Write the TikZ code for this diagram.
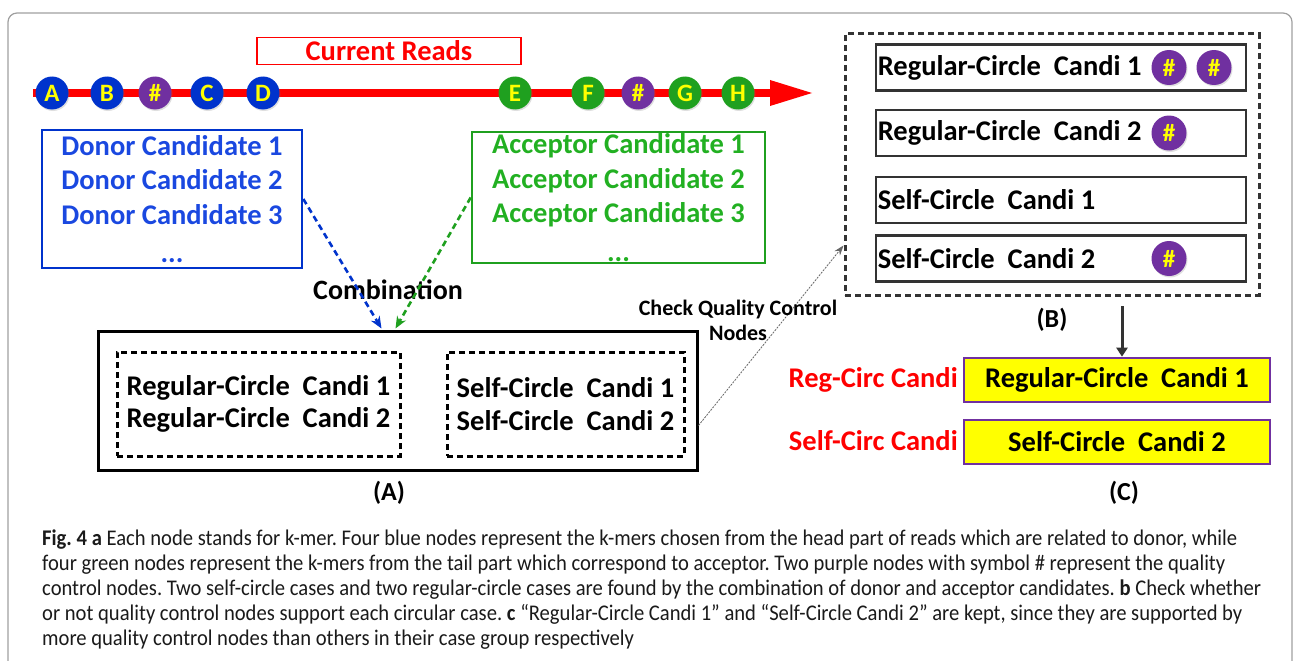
\documentclass[tikz,border=0pt]{standalone}
\usepackage{fontspec}
\setmainfont{Carlito}
\newfontfamily\capfont[FakeStretch=0.92]{Carlito}
\usetikzlibrary{arrows.meta,calc,shadows}
\definecolor{kred}{HTML}{FF0000}
\definecolor{kblue}{HTML}{0033CC}
\definecolor{tblue}{HTML}{1A48E0}
\definecolor{kgreen}{HTML}{1FA01F}
\definecolor{tgreen}{HTML}{22B022}
\definecolor{kpurple}{HTML}{7030A0}
\definecolor{kyellow}{HTML}{FFFF00}
\definecolor{dgray}{HTML}{333333}
\definecolor{capgray}{HTML}{1A1A1A}
\newcommand{\fs}[1]{\fontsize{#1}{#1}\selectfont}
\frenchspacing
\tikzset{
  kmer/.style={circle, minimum size=33pt, inner sep=0pt, font=\fs{25}\bfseries, text=kyellow,
    drop shadow={opacity=0.25, shadow xshift=1pt, shadow yshift=-1.5pt}},
  bluek/.style={kmer, fill=kblue},
  greenk/.style={kmer, fill=kgreen},
  qcn/.style={kmer, fill=kpurple, minimum size=35pt},
  dashbox/.style={draw, line width=3pt, dash pattern=on 6pt off 4pt},
  rowbox/.style={draw=dgray, line width=2.8pt, minimum height=46pt, minimum width=370pt, inner sep=0pt},
  rowtext/.style={anchor=west, inner sep=0pt, font=\fs{28.5}\bfseries},
  ybox/.style={draw=kpurple, fill=kyellow, line width=2.6pt, minimum width=306pt, minimum height=44pt, font=\fs{28.5}\bfseries},
  biglabel/.style={font=\fs{26}\bfseries},
  capline/.style={anchor=base west, inner sep=0pt, font=\capfont\fs{22.4}, text=capgray},
}
\begin{document}
\begin{tikzpicture}[x=1pt,y=-1pt]
\useasboundingbox (0,0) rectangle (1293,661);
% outer frame
\draw[gray!75, line width=1.2pt, rounded corners=9pt] (8,700) -- (8,13) -- (1292,13) -- (1292,700);

% current reads
\node[draw=kred, line width=1.2pt, minimum width=264pt, minimum height=27pt, inner sep=0pt,
  text=kred, font=\fs{28.5}\bfseries] (cur) at (389,51) {Current Reads};
\coordinate (rs) at (33,93);
\coordinate (re) at (776,93);
\coordinate (rt) at (812,93);
\draw[kred, line width=8pt] (rs) -- (re);
\fill[kred] (770,80) -- (rt) -- (770,106) -- cycle;

% k-mer nodes
\node[bluek] (nA) at (52,93) {A};
\node[bluek] (nB) at (107,93) {B};
\node[qcn, minimum size=33pt] (q1) at (155,93) {\#};
\node[bluek] (nC) at (207,93) {C};
\node[bluek] (nD) at (263,93) {D};
\node[greenk] (nE) at (515,93) {E};
\node[greenk] (nF) at (588,93) {F};
\node[qcn, minimum size=33pt] (q2) at (638,93) {\#};
\node[greenk] (nG) at (685,93) {G};
\node[greenk] (nH) at (738,93) {H};

% donor / acceptor
\node[draw=kblue, line width=2.6pt, minimum width=260pt, minimum height=138pt, text=tblue,
  font=\fs{28.5}\bfseries, align=center, inner sep=0pt] (donor) at (172,199)
  {Donor Candidate 1\\[6pt]Donor Candidate 2\\[6pt]Donor Candidate 3\\[10pt]...};
\node[draw=kgreen, line width=2.6pt, minimum width=293pt, minimum height=131pt, text=tgreen,
  font=\fs{28.5}\bfseries, align=center, inner sep=0pt] (acc) at (618.5,197.5)
  {Acceptor Candidate 1\\[6pt]Acceptor Candidate 2\\[6pt]Acceptor Candidate 3\\[10pt]...};

\node[font=\fs{28}\bfseries] (comb) at (388,290) {Combination};

% box A
\node[draw, line width=3pt, minimum width=599pt, minimum height=139pt, inner sep=0pt] (boxA) at (397.5,400.5) {};
\node[dashbox, minimum width=283pt, minimum height=104pt, align=left, font=\fs{28.5}\bfseries, inner sep=0pt] (regA) at (258.5,404)
  {Regular-Circle~ Candi 1\\[4pt]Regular-Circle~ Candi 2};
\node[dashbox, minimum width=237pt, minimum height=104pt, align=left, font=\fs{28.5}\bfseries, inner sep=0pt] (selfA) at (565.5,404)
  {Self-Circle~ Candi 1\\[4pt]Self-Circle~ Candi 2};
\node[biglabel] (labA) at (389,493) {(A)};

\draw[kblue, line width=2.6pt, dash pattern=on 6pt off 4pt, -{Stealth[length=12pt,width=10pt]}]
  (donor.east) -- ($(boxA.north)+(-16,-1)$);
\draw[kgreen, line width=2.6pt, dash pattern=on 6pt off 4pt, -{Stealth[length=12pt,width=10pt]}]
  (acc.west) -- ($(boxA.north)+(-2,-1)$);

% box B
\node[dashbox, draw=dgray, minimum width=414pt, minimum height=261pt, inner sep=0pt] (boxB) at (1052,164.5) {};
\node[rowbox] (r1) at (1061,67.5) {};
\node[rowbox] (r2) at (1061,133) {};
\node[rowbox] (r3) at (1061,200) {};
\node[rowbox] (r4) at (1061,258.5) {};
\node[rowtext] (t1) at ($(r1.west)+(3,0)$) {Regular-Circle~ Candi 1};
\node[rowtext] (t2) at ($(r2.west)+(3,0)$) {Regular-Circle~ Candi 2};
\node[rowtext] (t3) at ($(r3.west)+(3,0)$) {Self-Circle~ Candi 1};
\node[rowtext] (t4) at ($(r4.west)+(3,0)$) {Self-Circle~ Candi 2};
\node[qcn] (q3) at (1169,67.5) {\#};
\node[qcn] (q4) at (1214,67.5) {\#};
\node[qcn] (q5) at (1169,133) {\#};
\node[qcn] (q6) at (1169,258.5) {\#};
\node[biglabel] (labB) at (1052,320) {(B)};

% check quality control
\draw[gray!80!black, line width=0.8pt, dash pattern=on 2pt off 1.2pt, -{Stealth[length=10pt,width=7pt]}]
  ($(boxA.east)+(0,25)$) -- ($(boxB.west)+(0,81)$);
\node[font=\fs{22}\bfseries, align=center, inner sep=0pt] (cqc) at (738,320) {Check Quality Control\\[3pt]Nodes};

% C
\node[ybox] (y1) at (1117,380) {Regular-Circle~ Candi 1};
\node[ybox] (y2) at (1117,442) {Self-Circle~ Candi 2};
\node[anchor=east, text=kred, font=\fs{28.5}\bfseries, inner sep=0pt] (l1) at (958,380) {Reg-Circ Candi};
\node[anchor=east, text=kred, font=\fs{28.5}\bfseries, inner sep=0pt] (l2) at (958,441) {Self-Circ Candi};
\node[biglabel] (labC) at (1124,493) {(C)};
\coordinate (dstart) at (1122,306);
\draw[dgray, line width=3pt, -{Triangle[length=9pt,width=11pt]}] (dstart) -- (y1.north -| dstart);

% caption
\node[capline] (c1) at (42,545) {\textbf{Fig. 4 a} Each node stands for k-mer. Four blue nodes represent the k-mers chosen from the head part of reads which are related to donor, while};
\node[capline] (c2) at (42,570) {four green nodes represent the k-mers from the tail part which correspond to acceptor. Two purple nodes with symbol \# represent the quality};
\node[capline] (c3) at (42,595) {control nodes. Two self-circle cases and two regular-circle cases are found by the combination of donor and acceptor candidates. \textbf{b} Check whether};
\node[capline] (c4) at (42,620) {or not quality control nodes support each circular case. \textbf{c} “Regular-Circle Candi 1” and “Self-Circle Candi 2” are kept, since they are supported by};
\node[capline] (c5) at (42,645) {more quality control nodes than others in their case group respectively};
\end{tikzpicture}
\end{document}
